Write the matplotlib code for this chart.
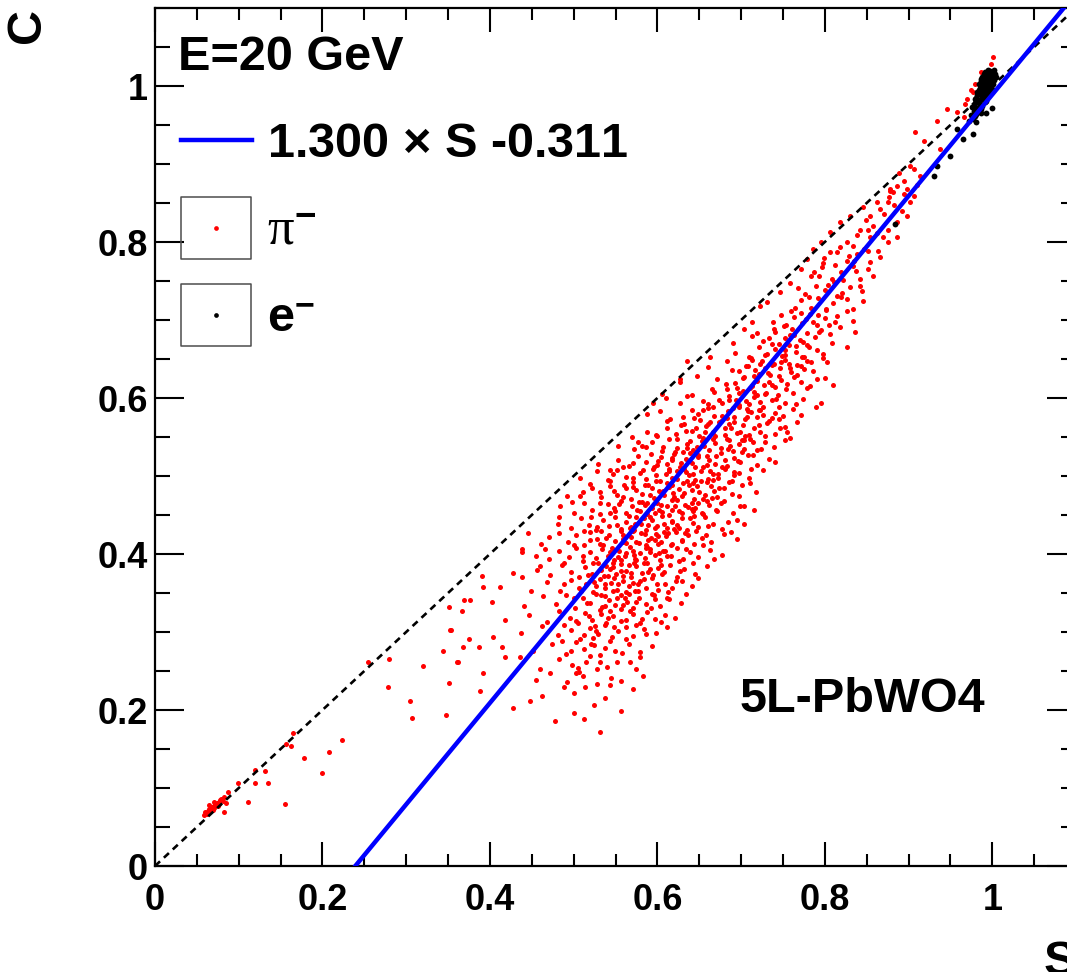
import matplotlib
matplotlib.use("Agg")
import matplotlib.pyplot as plt
import numpy as np
from matplotlib.lines import Line2D
from matplotlib.path import Path
from matplotlib.font_manager import FontProperties
from matplotlib.ticker import MultipleLocator, FixedLocator, FixedFormatter

plt.rcParams['font.family'] = ['Liberation Sans', 'DejaVu Sans']
plt.rcParams['font.weight'] = 'bold'
plt.rcParams['mathtext.fontset'] = 'custom'
plt.rcParams['mathtext.it'] = 'Liberation Serif:italic'
plt.rcParams['mathtext.bf'] = 'Liberation Sans:bold'
plt.rcParams['mathtext.rm'] = 'Liberation Sans'

# fit of the pion band:  C = slope * S + offset
fit_slope = 1.300
fit_offset = -0.311

x_ticks = [0, 0.2, 0.4, 0.6, 0.8, 1.0]
x_labels = ['0', '0.2', '0.4', '0.6', '0.8', '1']
y_ticks = [0, 0.2, 0.4, 0.6, 0.8, 1.0]
y_labels = ['0', '0.2', '0.4', '0.6', '0.8', '1']

# pi- events (S, C)
pion_points = [
    # low cluster and sparse points near the diagonal
    (0.058,0.066),(0.060,0.069),(0.062,0.067),(0.063,0.071),(0.064,0.073),(0.066,0.070),(0.067,0.074),
    (0.068,0.076),(0.069,0.072),(0.070,0.077),(0.071,0.075),(0.072,0.079),(0.073,0.078),(0.074,0.081),
    (0.075,0.077),(0.076,0.082),(0.077,0.080),(0.078,0.084),(0.079,0.086),(0.081,0.083),(0.083,0.088),
    (0.085,0.081),(0.082,0.069),(0.065,0.078),(0.071,0.082),
    (0.087,0.095),(0.099,0.107),(0.111,0.082),(0.120,0.107),(0.120,0.123),(0.131,0.122),(0.135,0.107),
    (0.155,0.080),(0.157,0.157),(0.163,0.154),(0.165,0.171),(0.178,0.139),(0.199,0.119),(0.208,0.146),
    (0.223,0.162),(0.254,0.262),(0.280,0.266),(0.320,0.257),(0.278,0.229),(0.304,0.212),(0.307,0.190),
    (0.348,0.193),(0.351,0.234),(0.344,0.276),(0.354,0.302),(0.351,0.332),(0.367,0.327),(0.369,0.341),
    (0.390,0.372),(0.388,0.225),(0.362,0.262),(0.375,0.291),(0.387,0.281),
    (0.588,0.579),(0.603,0.583),(0.627,0.620),(0.635,0.647),(0.663,0.653),(0.544,0.508),(0.508,0.474),
    (0.498,0.467),(0.482,0.447),(0.446,0.427),(0.438,0.403),(0.466,0.406),(0.456,0.380),(0.520,0.490),
    (0.570,0.550),(0.610,0.600),(0.660,0.640),(0.690,0.670),
    # main band
    (0.531,0.172),(0.478,0.186),(0.512,0.189),
    (0.427,0.203),(0.448,0.212),(0.501,0.196),(0.524,0.207),(0.557,0.199),
    (0.462,0.218),(0.500,0.222),(0.514,0.230),(0.538,0.215),(0.571,0.227),(0.489,0.229),
    (0.392,0.248),(0.472,0.248),(0.492,0.236),(0.511,0.244),(0.528,0.233),(0.545,0.241),(0.556,0.237),
    (0.507,0.249),(0.583,0.244),(0.455,0.239),
    (0.361,0.262),(0.418,0.268),(0.436,0.268),(0.460,0.252),(0.483,0.265),(0.498,0.258),(0.515,0.262),
    (0.528,0.252),(0.540,0.255),(0.552,0.262),(0.567,0.262),(0.520,0.269),(0.579,0.268),(0.505,0.254),
    (0.368,0.281),(0.414,0.281),(0.452,0.276),(0.474,0.284),(0.491,0.272),(0.503,0.287),(0.512,0.278),
    (0.524,0.283),(0.531,0.271),(0.544,0.289),(0.558,0.273),(0.566,0.285),(0.579,0.275),(0.593,0.282),
    (0.537,0.279),(0.486,0.288),
    (0.503,0.247),(0.531,0.261),(0.549,0.276),(0.521,0.284),(0.562,0.291),(0.497,0.276),(0.543,0.232),
    (0.575,0.253),
    (0.352,0.303),(0.404,0.294),(0.437,0.299),(0.462,0.308),(0.481,0.296),(0.497,0.302),(0.508,0.291),
    (0.519,0.305),(0.529,0.297),(0.537,0.309),(0.546,0.293),(0.553,0.301),(0.562,0.307),(0.571,0.295),
    (0.584,0.304),(0.598,0.299),(0.612,0.306),(0.526,0.308),
    (0.418,0.316),(0.447,0.322),(0.468,0.313),(0.483,0.327),(0.496,0.318),(0.505,0.311),(0.513,0.324),
    (0.522,0.316),(0.531,0.328),(0.539,0.312),(0.547,0.321),(0.556,0.329),(0.563,0.315),(0.571,0.323),
    (0.579,0.311),(0.588,0.326),(0.597,0.317),(0.609,0.322),(0.621,0.318),(0.544,0.327),(0.518,0.321),
    (0.503,0.314),(0.527,0.301),(0.541,0.318),(0.559,0.334),(0.575,0.309),(0.592,0.331),(0.516,0.337),
    (0.533,0.323),(0.548,0.306),(0.567,0.327),(0.582,0.317),(0.604,0.313),(0.489,0.309),(0.512,0.296),
    (0.556,0.314),(0.574,0.338),(0.597,0.342),(0.538,0.333),(0.523,0.292),(0.586,0.297),
    (0.376,0.341),(0.403,0.339),(0.441,0.333),(0.463,0.346),(0.479,0.336),(0.491,0.348),(0.502,0.331),
    (0.511,0.343),(0.519,0.337),(0.527,0.349),(0.534,0.332),(0.542,0.341),(0.549,0.335),(0.557,0.347),
    (0.564,0.338),(0.571,0.331),(0.578,0.344),(0.586,0.336),(0.594,0.349),(0.603,0.333),(0.614,0.342),
    (0.628,0.337),(0.552,0.344),(0.538,0.346),(0.566,0.349),
    (0.392,0.358),(0.412,0.358),(0.449,0.353),(0.468,0.364),(0.484,0.352),(0.497,0.367),(0.506,0.356),
    (0.515,0.362),(0.523,0.351),(0.531,0.368),(0.538,0.357),(0.545,0.363),(0.552,0.354),(0.559,0.366),
    (0.566,0.359),(0.573,0.352),(0.579,0.365),(0.586,0.357),(0.593,0.369),(0.601,0.354),(0.609,0.362),
    (0.618,0.356),(0.629,0.366),(0.641,0.359),(0.548,0.369),(0.562,0.351),(0.577,0.361),(0.527,0.359),
    (0.509,0.352),(0.524,0.364),(0.533,0.347),(0.541,0.372),(0.553,0.361),(0.561,0.344),(0.569,0.376),
    (0.577,0.353),(0.584,0.368),(0.596,0.347),(0.605,0.374),(0.613,0.351),(0.622,0.366),(0.634,0.349),
    (0.517,0.373),(0.489,0.361),(0.547,0.352),(0.571,0.363),(0.589,0.377),(0.599,0.361),(0.627,0.378),
    (0.648,0.369),(0.501,0.343),(0.556,0.378),(0.612,0.344),(0.538,0.361),
    (0.427,0.376),(0.438,0.371),(0.460,0.384),(0.472,0.373),(0.486,0.386),(0.497,0.377),(0.506,0.371),
    (0.514,0.383),(0.522,0.375),(0.529,0.388),(0.536,0.372),(0.543,0.381),(0.550,0.374),(0.556,0.387),
    (0.563,0.378),(0.569,0.371),(0.575,0.385),(0.582,0.376),(0.588,0.389),(0.595,0.373),(0.601,0.382),
    (0.608,0.377),(0.615,0.386),(0.623,0.371),(0.632,0.381),(0.645,0.374),(0.659,0.384),(0.559,0.372),
    (0.572,0.389),(0.591,0.381),(0.533,0.379),(0.547,0.389),
    (0.438,0.406),(0.455,0.398),(0.471,0.393),(0.483,0.404),(0.494,0.396),(0.503,0.408),(0.511,0.391),
    (0.519,0.402),(0.527,0.395),(0.534,0.407),(0.541,0.398),(0.548,0.392),(0.554,0.404),(0.561,0.397),
    (0.567,0.409),(0.573,0.393),(0.579,0.401),(0.585,0.395),(0.591,0.406),(0.597,0.399),(0.603,0.392),
    (0.609,0.404),(0.616,0.397),(0.623,0.408),(0.631,0.394),(0.639,0.402),(0.648,0.396),(0.663,0.405),
    (0.677,0.399),(0.557,0.392),(0.571,0.404),(0.588,0.409),(0.602,0.401),(0.544,0.403),
    (0.511,0.397),(0.523,0.389),(0.532,0.413),(0.539,0.384),(0.546,0.408),(0.553,0.396),(0.559,0.416),
    (0.566,0.386),(0.572,0.399),(0.578,0.414),(0.584,0.389),(0.591,0.402),(0.597,0.418),(0.604,0.386),
    (0.611,0.398),(0.618,0.413),(0.626,0.391),(0.634,0.407),(0.643,0.389),(0.655,0.411),(0.668,0.394),
    (0.501,0.412),(0.519,0.418),(0.562,0.401),(0.586,0.408),(0.607,0.404),(0.629,0.417),(0.547,0.383),
    (0.575,0.392),(0.489,0.389),
    (0.470,0.422),(0.461,0.413),(0.482,0.427),(0.493,0.416),(0.503,0.424),(0.512,0.412),(0.520,0.428),
    (0.528,0.419),(0.535,0.411),(0.542,0.425),(0.549,0.417),(0.556,0.429),(0.562,0.414),(0.568,0.422),
    (0.574,0.416),(0.580,0.427),(0.586,0.412),(0.592,0.421),(0.598,0.426),(0.604,0.415),(0.610,0.423),
    (0.616,0.411),(0.622,0.428),(0.629,0.418),(0.636,0.425),(0.644,0.413),(0.653,0.421),(0.664,0.416),
    (0.679,0.426),(0.695,0.419),(0.571,0.429),(0.589,0.418),(0.601,0.413),(0.613,0.427),(0.559,0.419),
    (0.539,0.421),
    (0.521,0.447),(0.533,0.429),(0.544,0.452),(0.552,0.437),(0.559,0.424),(0.566,0.449),(0.573,0.438),
    (0.579,0.455),(0.585,0.426),(0.591,0.447),(0.597,0.433),(0.602,0.457),(0.608,0.428),(0.614,0.450),
    (0.620,0.432),(0.626,0.455),(0.633,0.427),(0.639,0.446),(0.646,0.429),(0.653,0.452),(0.661,0.436),
    (0.671,0.455),(0.684,0.441),(0.512,0.429),(0.548,0.459),(0.589,0.437),(0.617,0.441),(0.641,0.458),
    (0.658,0.424),(0.688,0.428),(0.601,0.423),(0.567,0.433),
    (0.481,0.439),(0.497,0.433),(0.509,0.446),(0.518,0.437),(0.527,0.431),(0.535,0.444),(0.542,0.436),
    (0.549,0.448),(0.556,0.432),(0.563,0.441),(0.569,0.435),(0.575,0.447),(0.581,0.438),(0.587,0.431),
    (0.593,0.443),(0.599,0.436),(0.605,0.449),(0.611,0.433),(0.617,0.442),(0.623,0.437),(0.629,0.446),
    (0.635,0.431),(0.642,0.440),(0.649,0.434),(0.657,0.447),(0.666,0.438),(0.677,0.432),(0.695,0.444),
    (0.703,0.438),(0.528,0.435),(0.584,0.446),(0.608,0.439),(0.626,0.433),(0.644,0.449),(0.572,0.431),
    (0.484,0.461),(0.500,0.453),(0.512,0.466),(0.522,0.457),(0.532,0.451),(0.541,0.464),(0.549,0.455),
    (0.556,0.468),(0.563,0.452),(0.570,0.461),(0.576,0.456),(0.582,0.467),(0.588,0.451),(0.594,0.459),
    (0.600,0.465),(0.606,0.454),(0.612,0.462),(0.618,0.457),(0.624,0.469),(0.630,0.452),(0.636,0.460),
    (0.642,0.455),(0.648,0.466),(0.655,0.451),(0.662,0.463),(0.670,0.457),(0.679,0.468),(0.690,0.453),
    (0.704,0.462),(0.716,0.456),(0.532,0.466),(0.597,0.452),(0.621,0.462),(0.645,0.459),(0.585,0.463),
    (0.659,0.468),
    (0.531,0.479),(0.544,0.493),(0.554,0.464),(0.563,0.484),(0.571,0.497),(0.578,0.467),(0.585,0.489),
    (0.591,0.476),(0.598,0.494),(0.604,0.463),(0.611,0.491),(0.617,0.469),(0.623,0.496),(0.629,0.474),
    (0.635,0.493),(0.641,0.465),(0.647,0.487),(0.654,0.471),(0.661,0.496),(0.668,0.481),(0.676,0.465),
    (0.685,0.492),(0.697,0.474),(0.711,0.491),(0.559,0.473),(0.607,0.481),(0.633,0.463),(0.652,0.494),
    (0.674,0.484),(0.588,0.466),(0.619,0.478),(0.699,0.462),
    (0.492,0.474),(0.511,0.479),(0.522,0.484),(0.533,0.473),(0.543,0.487),(0.552,0.476),(0.560,0.489),
    (0.568,0.471),(0.575,0.482),(0.582,0.477),(0.589,0.488),(0.596,0.472),(0.602,0.481),(0.608,0.475),
    (0.614,0.486),(0.620,0.473),(0.626,0.483),(0.632,0.478),(0.638,0.489),(0.644,0.471),(0.650,0.480),
    (0.657,0.476),(0.664,0.487),(0.671,0.473),(0.679,0.484),(0.689,0.477),(0.701,0.488),(0.718,0.479),
    (0.617,0.489),(0.641,0.482),(0.593,0.484),(0.665,0.472),(0.571,0.486),(0.548,0.481),
    (0.508,0.497),(0.528,0.506),(0.541,0.495),(0.552,0.508),(0.562,0.499),(0.571,0.492),(0.579,0.504),
    (0.587,0.496),(0.595,0.509),(0.603,0.493),(0.610,0.502),(0.617,0.497),(0.624,0.507),(0.631,0.491),
    (0.638,0.501),(0.645,0.495),(0.652,0.506),(0.659,0.492),(0.666,0.503),(0.673,0.498),(0.681,0.509),
    (0.689,0.494),(0.698,0.504),(0.709,0.497),(0.726,0.508),(0.547,0.502),(0.614,0.509),(0.642,0.491),
    (0.667,0.495),(0.634,0.505),(0.598,0.501),(0.692,0.501),
    (0.559,0.511),(0.572,0.534),(0.583,0.508),(0.592,0.528),(0.600,0.514),(0.607,0.537),(0.614,0.506),
    (0.621,0.531),(0.628,0.517),(0.635,0.536),(0.642,0.503),(0.649,0.524),(0.656,0.538),(0.663,0.507),
    (0.670,0.526),(0.677,0.512),(0.684,0.535),(0.692,0.505),(0.701,0.531),(0.712,0.509),(0.724,0.535),
    (0.741,0.518),(0.587,0.537),(0.618,0.521),(0.646,0.531),(0.673,0.503),(0.696,0.519),(0.714,0.527),
    (0.632,0.509),(0.659,0.526),
    (0.529,0.516),(0.553,0.521),(0.566,0.513),(0.577,0.526),(0.587,0.518),(0.596,0.511),(0.604,0.524),
    (0.612,0.515),(0.620,0.528),(0.627,0.512),(0.634,0.522),(0.641,0.517),(0.648,0.527),(0.655,0.511),
    (0.662,0.521),(0.669,0.516),(0.676,0.529),(0.683,0.513),(0.691,0.523),(0.699,0.518),(0.708,0.527),
    (0.719,0.514),(0.733,0.522),(0.601,0.519),(0.639,0.529),(0.659,0.514),(0.617,0.523),(0.681,0.520),
    (0.645,0.512),(0.571,0.517),
    (0.553,0.538),(0.582,0.538),(0.594,0.544),(0.605,0.532),(0.614,0.547),(0.623,0.536),(0.631,0.531),
    (0.639,0.545),(0.647,0.537),(0.655,0.549),(0.662,0.533),(0.669,0.542),(0.676,0.536),(0.683,0.547),
    (0.690,0.532),(0.697,0.541),(0.704,0.535),(0.711,0.548),(0.719,0.533),(0.728,0.543),(0.739,0.537),
    (0.752,0.546),(0.643,0.533),(0.666,0.548),(0.687,0.539),(0.635,0.541),(0.701,0.546),(0.577,0.543),
    (0.598,0.552),(0.612,0.571),(0.624,0.547),(0.634,0.558),(0.644,0.574),(0.653,0.545),(0.661,0.567),
    (0.669,0.551),(0.677,0.577),(0.685,0.546),(0.692,0.569),(0.699,0.557),(0.707,0.575),(0.714,0.543),
    (0.721,0.566),(0.729,0.551),(0.737,0.574),(0.746,0.562),(0.759,0.549),(0.772,0.578),(0.628,0.565),
    (0.657,0.556),(0.681,0.561),(0.703,0.546),(0.726,0.578),(0.649,0.579),
    (0.600,0.551),(0.588,0.557),(0.611,0.562),(0.622,0.554),(0.632,0.567),(0.641,0.558),(0.650,0.551),
    (0.658,0.564),(0.666,0.556),(0.674,0.569),(0.681,0.552),(0.688,0.561),(0.695,0.555),(0.702,0.566),
    (0.709,0.553),(0.716,0.562),(0.723,0.557),(0.731,0.568),(0.740,0.554),(0.752,0.563),(0.767,0.569),
    (0.755,0.556),(0.663,0.569),(0.686,0.567),(0.705,0.551),(0.646,0.562),
    (0.615,0.573),(0.631,0.576),(0.641,0.584),(0.651,0.572),(0.660,0.587),(0.668,0.577),(0.676,0.571),
    (0.684,0.583),(0.691,0.575),(0.698,0.588),(0.705,0.573),(0.712,0.582),(0.719,0.576),(0.726,0.589),
    (0.733,0.571),(0.741,0.581),(0.750,0.577),(0.762,0.586),(0.789,0.589),(0.707,0.586),(0.683,0.574),
    (0.722,0.585),(0.667,0.589),(0.745,0.573),
    (0.641,0.604),(0.655,0.585),(0.665,0.612),(0.674,0.597),(0.682,0.618),(0.690,0.587),(0.698,0.607),
    (0.706,0.596),(0.713,0.616),(0.721,0.585),(0.729,0.605),(0.737,0.617),(0.745,0.589),(0.754,0.611),
    (0.766,0.592),(0.779,0.613),(0.661,0.592),(0.695,0.613),(0.719,0.604),(0.742,0.599),(0.708,0.583),
    (0.686,0.598),
    (0.595,0.594),(0.606,0.605),(0.627,0.594),(0.635,0.602),(0.654,0.596),(0.668,0.608),(0.677,0.593),
    (0.686,0.603),(0.694,0.597),(0.702,0.609),(0.709,0.592),(0.716,0.601),(0.723,0.595),(0.730,0.607),
    (0.737,0.598),(0.744,0.604),(0.753,0.593),(0.762,0.606),(0.774,0.599),(0.795,0.594),(0.715,0.608),
    (0.698,0.591),
    (0.647,0.628),(0.671,0.624),(0.627,0.624),(0.683,0.612),(0.693,0.619),(0.702,0.626),(0.711,0.613),
    (0.719,0.622),(0.727,0.617),(0.734,0.629),(0.741,0.614),(0.748,0.623),(0.755,0.618),(0.763,0.627),
    (0.771,0.620),(0.782,0.615),(0.800,0.625),(0.810,0.617),(0.733,0.621),(0.716,0.628),
    (0.689,0.636),(0.703,0.627),(0.712,0.651),(0.721,0.631),(0.729,0.655),(0.737,0.642),(0.745,0.628),
    (0.752,0.655),(0.759,0.638),(0.767,0.629),(0.775,0.653),(0.786,0.634),(0.798,0.651),(0.723,0.644),
    (0.748,0.646),(0.771,0.641),(0.706,0.641),(0.791,0.624),
    (0.683,0.647),(0.697,0.634),(0.708,0.641),(0.717,0.636),(0.725,0.648),(0.732,0.632),(0.739,0.643),
    (0.746,0.638),(0.753,0.649),(0.760,0.633),(0.767,0.642),(0.775,0.637),(0.784,0.646),(0.779,0.647),
    (0.803,0.646),(0.729,0.639),(0.757,0.644),(0.713,0.649),
    (0.693,0.658),(0.709,0.652),(0.721,0.666),(0.731,0.656),(0.740,0.663),(0.749,0.654),(0.757,0.668),
    (0.765,0.659),(0.773,0.652),(0.781,0.665),(0.791,0.662),(0.798,0.657),(0.827,0.666),(0.752,0.661),
    (0.737,0.669),(0.766,0.667),
    (0.719,0.683),(0.733,0.677),(0.745,0.669),(0.754,0.694),(0.763,0.681),(0.771,0.709),(0.779,0.668),
    (0.786,0.697),(0.793,0.684),(0.801,0.714),(0.809,0.671),(0.818,0.691),(0.827,0.711),(0.748,0.706),
    (0.764,0.715),(0.792,0.706),(0.812,0.698),(0.739,0.688),
    (0.703,0.688),(0.713,0.679),(0.726,0.673),(0.741,0.684),(0.752,0.677),(0.761,0.689),(0.770,0.674),
    (0.779,0.683),(0.788,0.678),(0.795,0.687),(0.806,0.682),(0.836,0.685),(0.758,0.681),(0.774,0.672),
    (0.713,0.697),(0.738,0.697),(0.751,0.692),(0.763,0.704),(0.773,0.696),(0.782,0.708),(0.791,0.693),
    (0.800,0.703),(0.815,0.705),(0.834,0.699),(0.777,0.701),(0.805,0.694),
    (0.723,0.718),(0.731,0.723),(0.760,0.712),(0.772,0.726),(0.783,0.716),(0.792,0.728),(0.801,0.713),
    (0.810,0.722),(0.834,0.714),(0.846,0.724),(0.819,0.729),
    (0.768,0.741),(0.781,0.729),(0.793,0.757),(0.804,0.745),(0.812,0.771),(0.822,0.751),(0.829,0.782),
    (0.837,0.763),(0.845,0.737),(0.851,0.789),(0.799,0.779),(0.818,0.794),(0.787,0.762),(0.835,0.776),
    (0.826,0.727),(0.866,0.781),
    (0.747,0.736),(0.759,0.748),(0.776,0.733),(0.789,0.744),(0.800,0.738),(0.811,0.749),(0.821,0.734),
    (0.830,0.742),(0.842,0.743),(0.815,0.731),
    (0.771,0.765),(0.783,0.757),(0.797,0.768),(0.809,0.753),(0.819,0.762),(0.834,0.769),(0.851,0.765),
    (0.858,0.756),(0.842,0.752),
    (0.779,0.778),(0.798,0.773),(0.806,0.787),(0.815,0.787),(0.827,0.776),(0.839,0.784),(0.854,0.774),
    (0.863,0.788),
    (0.786,0.791),(0.795,0.800),(0.827,0.800),(0.834,0.795),(0.847,0.791),(0.875,0.800),(0.854,0.806),
    (0.806,0.813),(0.818,0.825),(0.842,0.816),(0.870,0.806),(0.886,0.807),(0.875,0.816),(0.851,0.816),
    (0.838,0.809),(0.858,0.821),(0.871,0.836),(0.883,0.848),(0.895,0.862),(0.862,0.811),(0.849,0.828),
    (0.830,0.833),(0.854,0.833),(0.886,0.825),(0.898,0.833),(0.892,0.840),(0.866,0.842),(0.846,0.845),
    (0.862,0.851),(0.875,0.851),(0.902,0.851),(0.906,0.859),(0.878,0.865),(0.882,0.864),(0.898,0.868),
    (0.886,0.872),(0.894,0.878),(0.906,0.893),(0.878,0.868),(0.914,0.884),(0.902,0.897),(0.889,0.889),
    (0.910,0.873),(0.877,0.858),
    (0.918,0.929),(0.908,0.941),(0.938,0.919),(0.934,0.955),(0.946,0.970),(0.958,0.967),(0.968,0.977),
    (0.970,0.983),(0.977,0.992),(0.979,1.003),(0.986,1.018),(0.998,1.028),(1.001,1.037),(0.974,0.995),
    (0.966,0.960),
]

# e- events (S, C): tight blob around (0.99, 0.99)
electron_points = [
    (0.988,1.012),(0.991,1.018),(0.994,1.014),(0.997,1.019),(1.000,1.011),(1.003,1.016),(0.990,1.015),
    (0.996,1.010),(1.002,1.020),(0.993,1.017),(0.999,1.015),(1.004,1.012),(0.995,1.021),
    (0.984,1.002),(0.987,1.007),(0.990,1.004),(0.993,1.009),(0.996,1.003),(0.999,1.006),(1.002,1.008),
    (0.986,1.009),(0.992,1.001),(0.998,1.009),(1.001,1.002),(0.989,1.000),(0.995,1.006),
    (0.982,0.992),(0.985,0.997),(0.988,0.994),(0.991,0.999),(0.994,0.993),(0.997,0.998),(1.000,0.996),
    (0.989,0.991),(0.995,0.999),(0.984,0.995),(0.992,0.995),(0.998,0.992),
    (0.979,0.983),(0.982,0.988),(0.985,0.982),(0.988,0.987),(0.991,0.984),(0.994,0.989),(0.986,0.989),
    (0.992,0.981),(0.981,0.985),(0.989,0.983),
    (0.976,0.973),(0.979,0.978),(0.982,0.972),(0.985,0.977),(0.988,0.974),(0.991,0.979),(0.983,0.980),
    (0.978,0.975),(0.986,0.971),
    (0.975,0.963),(0.978,0.968),(0.981,0.964),(0.984,0.969),(0.987,0.966),(0.979,0.961),
    (0.972,0.955),(0.977,0.958),(0.981,0.954),
    (0.977,0.938),(0.965,0.932),(0.950,0.910),(0.934,0.897),(0.930,0.884),(0.884,0.823),(1.000,0.972),
    (0.958,0.945),(0.992,0.965),
]

pion_s = [p[0] for p in pion_points]
pion_c = [p[1] for p in pion_points]
ele_s = [p[0] for p in electron_points]
ele_c = [p[1] for p in electron_points]

fig = plt.figure(figsize=(10.67, 9.72), dpi=100)
ax = fig.add_axes([155 / 1067, 106 / 972, 921 / 1067, 858 / 972])

ax.plot(pion_s, pion_c, ls='', marker='o', ms=3.6, mew=0, color='#ff0000', zorder=2)
ax.plot(ele_s, ele_c, ls='', marker='o', ms=4.2, mew=0, color='black', zorder=3)

diag = np.array([0, 1.1])
ax.plot(diag, diag, color='black', lw=1.9, ls=(0, (2.6, 2.0)), zorder=4)

s_line = np.array([0, 1.1])
ax.plot(s_line, fit_slope * s_line + fit_offset, color='#0000ff', lw=3.2, zorder=5)

ax.set_xlim(0, 1.1)
ax.set_ylim(0, 1.1)

ax.xaxis.set_major_locator(FixedLocator(x_ticks))
ax.xaxis.set_major_formatter(FixedFormatter(x_labels))
ax.yaxis.set_major_locator(FixedLocator(y_ticks))
ax.yaxis.set_major_formatter(FixedFormatter(y_labels))
ax.xaxis.set_minor_locator(MultipleLocator(0.05))
ax.yaxis.set_minor_locator(MultipleLocator(0.05))

ax.tick_params(which='both', direction='in', top=True, right=True, width=1.5, labelsize=26)
ax.tick_params(axis='x', which='major', length=17, pad=12)
ax.tick_params(axis='x', which='minor', length=8.5)
ax.tick_params(axis='y', which='major', length=21, pad=5)
ax.tick_params(axis='y', which='minor', length=11)
for sp in ax.spines.values():
    sp.set_linewidth(1.6)

ax.set_xlabel('S', fontsize=35, fontweight='bold', loc='right')
ax.xaxis.set_label_coords(1.0, -0.086)
ax.xaxis.label.set_va('top')
ax.set_ylabel('C', fontsize=35, fontweight='bold', loc='top')
ax.yaxis.set_label_coords(-0.114, 1.0)

ax.text(0.025, 0.928, 'E=20 GeV', transform=ax.transAxes, fontsize=35, fontweight='bold', va='baseline')
ax.text(0.635, 0.1795, '5L-PbWO4', transform=ax.transAxes, fontsize=35, fontweight='bold', va='baseline')

box = Path([(-1, -0.887), (1, -0.887), (1, 0.887), (-1, 0.887), (-1, -0.887)],
           [Path.MOVETO, Path.LINETO, Path.LINETO, Path.LINETO, Path.CLOSEPOLY])
h_fit = Line2D([], [], color='#0000ff', lw=3.2)
h_pi = (Line2D([], [], ls='', marker=box, ms=51, mfc='none', mec='0.3', mew=1.1),
        Line2D([], [], ls='', marker='o', ms=3.4, mew=0, color='#ff0000'))
h_e = (Line2D([], [], ls='', marker=box, ms=51, mfc='none', mec='0.3', mew=1.1),
       Line2D([], [], ls='', marker='o', ms=3.4, mew=0, color='black'))

leg = ax.legend([h_fit, h_pi, h_e],
                [r'1.300 $\times$ S -0.311', r'π$^{\mathbf{-}}$', r'e$^{\mathbf{-}}$'],
                loc='upper left', bbox_to_anchor=((181 - 155) / 921, (866 - 122) / 858),
                prop=FontProperties(family='Liberation Sans', weight='bold', size=35),
                frameon=False, borderpad=0, borderaxespad=0, handlelength=1.46,
                handletextpad=0.3, labelspacing=0.84)
pi_text = leg.get_texts()[1]
pi_text.set_fontfamily('Liberation Serif')
pi_text.set_fontweight('normal')
pi_text.set_fontsize(38)

fig.savefig('out.png', dpi=100)
